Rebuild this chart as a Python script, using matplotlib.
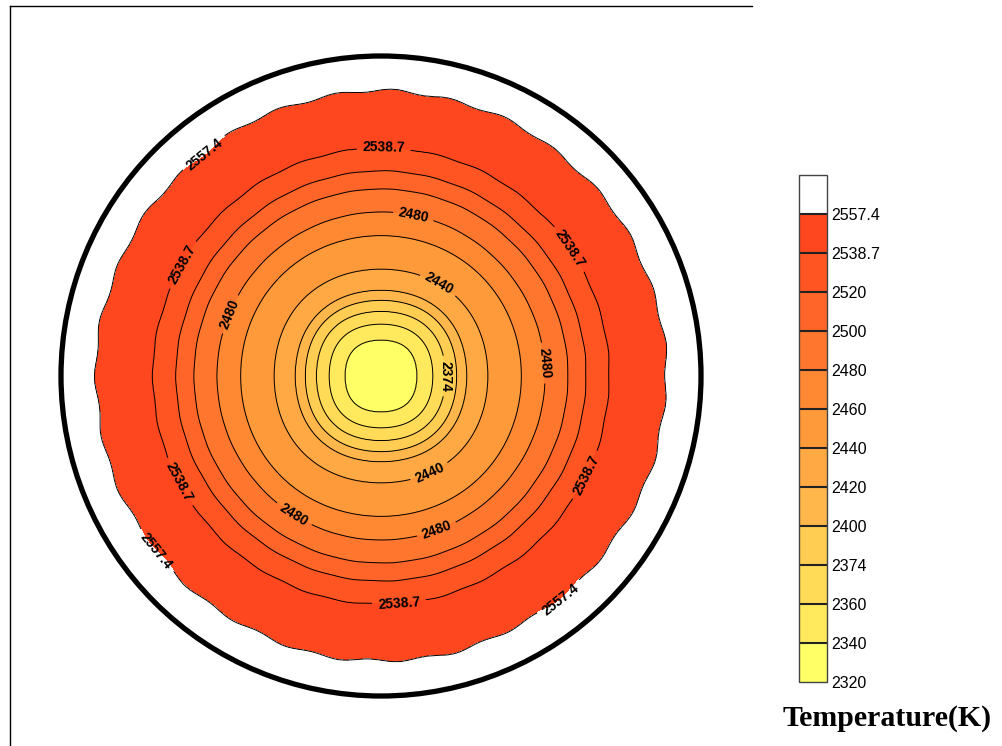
import numpy as np
import matplotlib
matplotlib.use('Agg')
import matplotlib.pyplot as plt
from matplotlib.patches import Circle

# contour levels (K), last one is only the white "above" bin of the colour bar
levels = [2320, 2340, 2360, 2374, 2400, 2420, 2440, 2460, 2480, 2500,
          2520, 2538.7, 2557.4, 2576.1]
fill_colors = ['#FFFF66', '#FFE95C', '#FFDB57', '#FFCD52', '#FFB74B',
               '#FFA944', '#FF9A3B', '#FF8833', '#FF772F', '#FF6529',
               '#FF5522', '#FF471F', '#FFFFFF']
tick_labels = ['2320', '2340', '2360', '2374', '2400', '2420', '2440',
               '2460', '2480', '2500', '2520', '2538.7', '2557.4']

# radial temperature profile (radius in 10 px units)
prof_r = [0.0, 3.7, 5.3, 6.6, 7.7, 8.7, 10.8, 14.1, 16.4, 18.7, 20.5,
          22.8, 28.5, 40.0]
prof_T = [2326, 2340, 2360, 2374, 2400, 2420, 2440, 2460, 2480, 2500,
          2520, 2538.7, 2557.4, 2575]

# small angular distortion of the iso-lines (square-ish core, wavy rim)
sq_amp = 0.035
rim_amps = [0.005, 0.002]
rim_waves = [31, 13]
wall_r = 32.0

x = np.linspace(-37.1, 37.1, 800)
y = np.linspace(-37.0, 37.0, 800)
X, Y = np.meshgrid(x, y)
R = np.hypot(X, Y)
TH = np.arctan2(Y, X)
core_w = np.clip(1 - R / 16.0, 0, 1)
rim_w = np.clip((R - 12.0) / 16.5, 0, 1) ** 2
wave = sum(a * np.cos(k * TH + 0.6 * k) for a, k in zip(rim_amps, rim_waves))
R_eff = R * (1 + sq_amp * core_w * np.cos(4 * TH) + rim_w * wave)
T = np.interp(R_eff, prof_r, prof_T)

fig = plt.figure(figsize=(10.02, 7.46), dpi=100)
ax = fig.add_axes([10 / 1002, 0, 742 / 1002, 740 / 746])

cf = ax.contourf(X, Y, T, levels=levels, colors=fill_colors)
cl = ax.contour(X, Y, T, levels=levels[1:-1], colors='black',
                linewidths=0.7)

# label positions (data units) picked to match the reference
label_pos = [(-17.7, 22.3), (-22.7, -17.7), (17.8, -22.2),
             (0.3, 22.6), (-20.2, 11.3), (19.0, 12.8), (-21.2, -11.2),
             (21.5, -10.4), (1.8, -22.7),
             (-15.4, 6.3), (16.3, 1.3), (-8.5, -13.5), (5.8, -16.0),
             (3.3, 16.3),
             (5.5, 8.8), (4.6, -9.2),
             (6.6, 0.0)]
ax.clabel(cl, manual=label_pos, inline=True, fontsize=10,
          fmt=lambda v: ('%g' % v), inline_spacing=3)
for t in cl.labelTexts:
    t.set_fontfamily('Liberation Sans')
    t.set_fontweight('bold')

ax.add_patch(Circle((0, 0), wall_r, fill=False, edgecolor='black',
                    linewidth=3.8))

ax.set_xlim(-37.1, 37.1)
ax.set_ylim(-37.0, 37.0)
ax.set_xticks([])
ax.set_yticks([])
ax.spines['right'].set_visible(False)
ax.spines['bottom'].set_visible(False)
for s in ('left', 'top'):
    ax.spines[s].set_linewidth(1.0)

cax = fig.add_axes([799 / 1002, 64 / 746, 28 / 1002, 507 / 746])
cb = fig.colorbar(cf, cax=cax, drawedges=True, ticks=levels[:-1])
cb.ax.set_yticklabels(tick_labels, fontfamily='Liberation Sans',
                      fontsize=11.5)
cb.ax.tick_params(length=0, pad=3)
cb.outline.set_edgecolor('#444444')
cb.outline.set_linewidth(1.0)
cb.dividers.set_color('#222222')
cb.dividers.set_linewidth(1.5)

fig.text(887 / 1002, 1 - 718 / 746, 'Temperature(K)', ha='center',
         va='center', fontfamily='Liberation Serif', fontweight='bold',
         fontsize=21.5)

fig.savefig('out.png', dpi=100)
